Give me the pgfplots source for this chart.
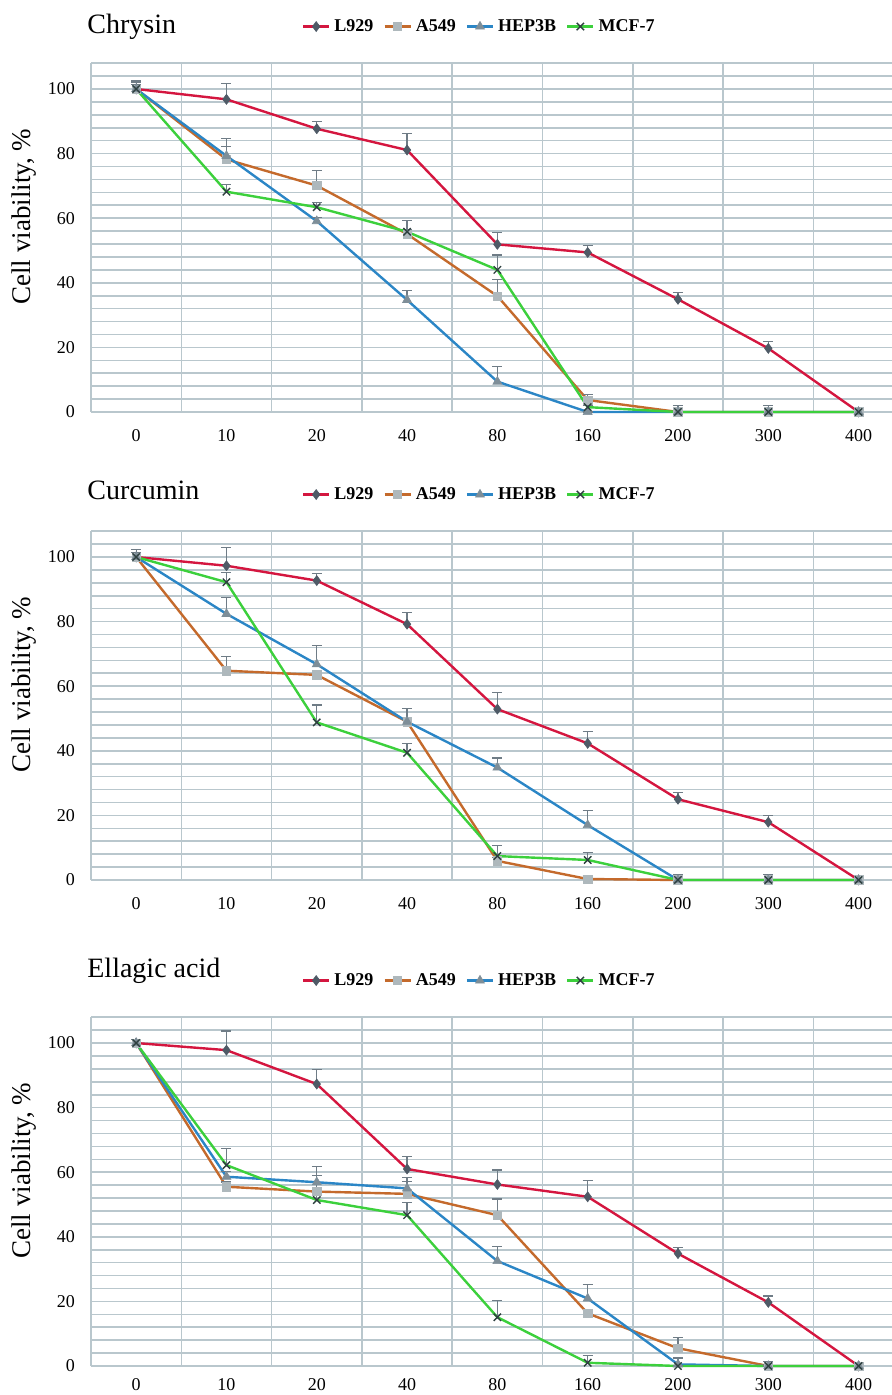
\documentclass[border=0pt]{standalone}
\usepackage{fontspec}
\setmainfont{Liberation Serif}
\usepackage{pgfplots}
\pgfplotsset{compat=1.18}
\definecolor{gridc}{HTML}{B9C7CD}
\definecolor{lred}{HTML}{D4163F}
\definecolor{lbrown}{HTML}{C46A2C}
\definecolor{lblue}{HTML}{2B86C6}
\definecolor{lgreen}{HTML}{3CD03C}
\definecolor{mdia}{HTML}{4E5A66}
\definecolor{msq}{HTML}{AEB8BC}
\definecolor{mtri}{HTML}{7E8E98}
\definecolor{mx}{HTML}{2E4040}
\definecolor{errc}{HTML}{6F7C86}
\tikzset{ttl/.style={anchor=base west, inner sep=0pt, font=\fontsize{14}{16}\selectfont}}
\pgfplotsset{
 panel/.style={
  scale only axis, width=400.5pt, height=174.4pt,
  xmin=-0.5, xmax=8.37, ymin=0, ymax=108,
  xtick={0,...,8}, xticklabels={0,10,20,40,80,160,200,300,400},
  minor xtick={0.5,1.5,...,7.5},
  ytick={0,20,...,100}, minor ytick={4,8,...,108},
  xmajorgrids=false, xminorgrids=true, ymajorgrids=false, yminorgrids=true,
  minor grid style={gridc, line width=0.8pt},
  major tick length=0pt, minor tick length=0pt,
  axis x line*=bottom, axis y line*=left,
  axis line style={gridc, line width=0.8pt, -},
  tick label style={font=\fontsize{9}{10}\selectfont},
  xticklabel style={yshift=-5pt},
  yticklabel style={xshift=-4.5pt},
  /pgf/number format/assume math mode=true,
  ylabel={Cell viability, \%},
  ylabel style={at={(axis description cs:-0.0836,0.56)}, anchor=center, font=\fontsize{13.5}{16}\selectfont},
  clip=false,
  legend columns=4,
  legend style={at={(0.486,1.105)}, anchor=center, draw=none, fill=none,
    font=\bfseries\fontsize{9}{10}\selectfont,
    /tikz/every even column/.append style={column sep=3pt}},
  legend image code/.code={\draw[mark repeat=2,mark phase=2] plot coordinates {(0pt,0pt) (6.5pt,0pt) (13pt,0pt)};},
  error bars/y dir=plus, error bars/y explicit,
  error bars/error bar style={errc, line width=0.6pt},
  error bars/error mark options={errc, rotate=90, mark size=2.5pt, line width=0.6pt},
 },
 sL/.style={lred, line width=1.2pt, mark=diamond*, mark size=2.5pt, mark options={mdia, fill=mdia, line width=0.3pt}},
 sA/.style={lbrown, line width=1.2pt, mark=square*, mark size=2.1pt, mark options={msq, fill=msq, line width=0.3pt}},
 sH/.style={lblue, line width=1.2pt, mark=triangle*, mark size=2.6pt, mark options={mtri, fill=mtri, line width=0.3pt}},
 sM/.style={lgreen, line width=1.2pt, mark=x, mark size=2.6pt, mark options={mx, line width=0.7pt}},
}
\begin{document}
\begin{tikzpicture}
% ---------------- Chrysin ----------------
\begin{axis}[panel, at={(45.5pt,491.5pt)}, anchor=south west]
\addplot[sL] coordinates {(0,100) +- (0,2.5) (1,96.8) +- (0,4.9) (2,87.7) +- (0,2.2) (3,81.1) +- (0,5.2) (4,51.9) +- (0,3.7) (5,49.4) +- (0,2.1) (6,34.9) +- (0,2.0) (7,19.7) +- (0,2.1) (8,0) +- (0,0)};
\addplot[sA] coordinates {(0,100) +- (0,2.0) (1,78.2) +- (0,6.5) (2,70.1) +- (0,4.6) (3,55.1) +- (0,1.5) (4,35.9) +- (0,5.2) (5,3.7) +- (0,1.6) (6,0) +- (0,0) (7,0) +- (0,0) (8,0) +- (0,0)};
\addplot[sH] coordinates {(0,100) +- (0,1.5) (1,79.3) +- (0,2.9) (2,59.1) +- (0,1.0) (3,34.7) +- (0,3.0) (4,9.4) +- (0,4.6) (5,0) +- (0,0) (6,0) +- (0,0) (7,0) +- (0,0) (8,0) +- (0,0)};
\addplot[sM] coordinates {(0,100) +- (0,1.5) (1,68.2) +- (0,2.3) (2,63.4) +- (0,1.5) (3,55.8) +- (0,3.6) (4,44.0) +- (0,4.6) (5,1.5) +- (0,0.5) (6,0) +- (0,1.9) (7,0) +- (0,1.9) (8,0) +- (0,0)};
\legend{L929,A549,HEP3B,MCF-7}
\node[ttl] at (rel axis cs:-0.005,1.086) {Chrysin};
\end{axis}
% ---------------- Curcumin ----------------
\begin{axis}[panel, at={(45.5pt,257.5pt)}, anchor=south west]
\addplot[sL] coordinates {(0,100) +- (0,2.4) (1,97.3) +- (0,5.7) (2,92.7) +- (0,2.2) (3,79.2) +- (0,3.7) (4,52.9) +- (0,5.1) (5,42.3) +- (0,3.6) (6,25.0) +- (0,2.0) (7,17.9) +- (0,2.0) (8,0) +- (0,0)};
\addplot[sA] coordinates {(0,100) +- (0,1.5) (1,64.8) +- (0,4.5) (2,63.5) +- (0,1.0) (3,49.0) +- (0,4.0) (4,5.9) +- (0,1.0) (5,0.3) +- (0,1.2) (6,0) +- (0,0) (7,0) +- (0,0) (8,0) +- (0,0)};
\addplot[sH] coordinates {(0,100) +- (0,1.5) (1,82.4) +- (0,5.1) (2,66.8) +- (0,5.8) (3,49.0) +- (0,1.0) (4,34.8) +- (0,3.0) (5,17.0) +- (0,4.5) (6,0) +- (0,0) (7,0) +- (0,0) (8,0) +- (0,0)};
\addplot[sM] coordinates {(0,100) +- (0,1.5) (1,92.2) +- (0,3.0) (2,48.8) +- (0,5.4) (3,39.4) +- (0,2.9) (4,7.4) +- (0,3.4) (5,6.2) +- (0,2.3) (6,0) +- (0,1.8) (7,0) +- (0,1.8) (8,0) +- (0,0)};
\legend{L929,A549,HEP3B,MCF-7}
\node[ttl] at (rel axis cs:-0.005,1.092) {Curcumin};
\end{axis}
% ---------------- Ellagic acid ----------------
\begin{axis}[panel, at={(45.5pt,14.5pt)}, anchor=south west, xticklabel style={yshift=2.5pt}]
\addplot[sL] coordinates {(0,100) +- (0,1.0) (1,97.8) +- (0,5.9) (2,87.3) +- (0,4.6) (3,61.0) +- (0,3.8) (4,56.2) +- (0,4.5) (5,52.4) +- (0,5.0) (6,34.8) +- (0,1.8) (7,19.7) +- (0,2.0) (8,0) +- (0,0)};
\addplot[sA] coordinates {(0,100) +- (0,1.0) (1,55.5) +- (0,1.5) (2,54.0) +- (0,5.0) (3,53.3) +- (0,3.8) (4,46.7) +- (0,5.0) (5,16.3) +- (0,1.0) (6,5.5) +- (0,3.4) (7,0) +- (0,1.3) (8,0) +- (0,0)};
\addplot[sH] coordinates {(0,100) +- (0,1.0) (1,58.6) +- (0,1.5) (2,56.9) +- (0,4.8) (3,55.0) +- (0,3.3) (4,32.5) +- (0,4.4) (5,20.9) +- (0,4.4) (6,0.5) +- (0,2.0) (7,0) +- (0,0) (8,0) +- (0,0)};
\addplot[sM] coordinates {(0,100) +- (0,1.0) (1,62.2) +- (0,5.2) (2,51.4) +- (0,1.5) (3,46.7) +- (0,4.0) (4,15.1) +- (0,5.1) (5,1.0) +- (0,2.2) (6,0) +- (0,0) (7,0) +- (0,0) (8,0) +- (0,0)};
\legend{L929,A549,HEP3B,MCF-7}
\node[ttl] at (rel axis cs:-0.005,1.115) {Ellagic acid};
\end{axis}
\pgfresetboundingbox
\useasboundingbox (0,0) rectangle (446pt,697.5pt);
\end{tikzpicture}
\end{document}
